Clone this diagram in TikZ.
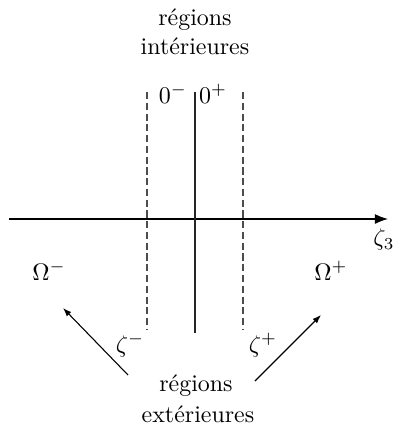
\documentclass[tikz,border=0pt]{standalone}
\usetikzlibrary{arrows.meta}
\begin{document}
\begin{tikzpicture}[x=0.418pt,y=-0.418pt,
  lbl/.style={inner sep=0pt},
  dashline/.style={draw=black!70,dash pattern=on 3pt off 1.5pt,line width=0.5pt},
  axis/.style={line width=0.5pt,-{Latex[length=5.5pt,width=4.2pt]}},
  ptr/.style={line width=0.45pt,-{Latex[length=3.6pt,width=2.6pt]}}]
\useasboundingbox (0,0) rectangle (395,425);
% axis
\coordinate (aL) at (9,219);
\coordinate (aR) at (388,219);
\draw[axis] (aL) -- (aR);
% vertical lines
\coordinate (vT) at (195,92);
\coordinate (vB) at (195,333);
\draw[line width=0.5pt,black!85] (vT) -- (vB);
\coordinate (dlT) at (147,92);
\coordinate (dlB) at (147,330);
\coordinate (drT) at (243,92);
\coordinate (drB) at (243,330);
\draw[dashline] (dlT) -- (dlB);
\draw[dashline] (drT) -- (drB);
% labels
\node[lbl] (ri1) at (195,20) {régions};
\node[lbl] (ri2) at (195,46) {intérieures};
\node[lbl] (zm) at (173,94) {$0^-$};
\node[lbl] (zp) at (213,94) {$0^+$};
\node[lbl] (z3) at (384,240) {$\zeta_3$};
\node[lbl] (om) at (49,271) {$\Omega^-$};
\node[lbl] (op) at (331,271) {$\Omega^+$};
\node[lbl] (zetam) at (130,345) {$\zeta^-$};
\node[lbl] (zetap) at (263,345) {$\zeta^+$};
\node[lbl] (re1) at (196,386) {régions};
\node[lbl] (re2) at (198,414) {extérieures};
% arrows
\coordinate (lA) at (128,375);
\coordinate (lB) at (63,308);
\coordinate (rA) at (255,381);
\coordinate (rB) at (321,315);
\draw[ptr] (lA) -- (lB);
\draw[ptr] (rA) -- (rB);
\end{tikzpicture}
\end{document}
